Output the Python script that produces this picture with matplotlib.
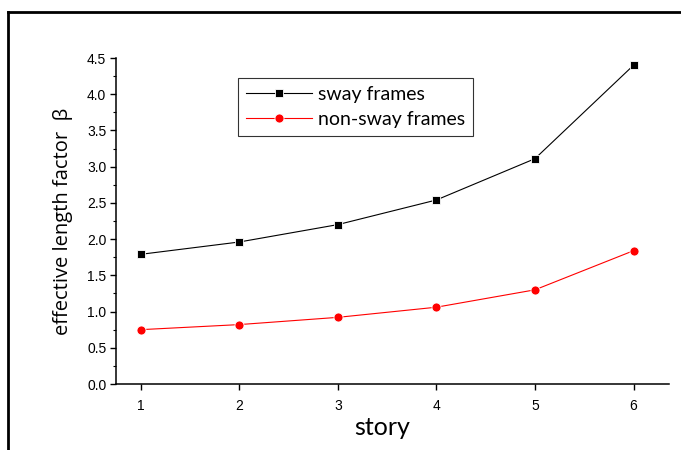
import matplotlib.pyplot as plt
from matplotlib.lines import Line2D
from matplotlib.ticker import MultipleLocator

# data
story = [1, 2, 3, 4, 5, 6]
sway = [1.79, 1.96, 2.20, 2.54, 3.11, 4.40]
non_sway = [0.75, 0.82, 0.92, 1.06, 1.30, 1.84]

plt.rcParams['font.family'] = ['Liberation Sans', 'DejaVu Sans']

fig = plt.figure(figsize=(6.81, 4.5), dpi=100)
ax = fig.add_axes([116 / 681, 66 / 450, 553 / 681, 326 / 450])

ax.plot(story, sway, '-', color='black', lw=0.8, marker='s', ms=6,
        mfc='black', mec='white', mew=0.6, label='sway frames')
ax.plot(story, non_sway, '-', color='red', lw=0.8, marker='o', ms=6.5,
        mfc='red', mec='white', mew=0.6, label='non-sway frames')

ax.set_xlim(0.75, 6.36)
ax.set_ylim(0, 4.5)
ax.xaxis.set_major_locator(MultipleLocator(1))
ax.yaxis.set_major_locator(MultipleLocator(0.5))
ax.yaxis.set_minor_locator(MultipleLocator(0.25))
ax.yaxis.set_major_formatter(plt.FormatStrFormatter('%.1f'))

for s in ['top', 'right']:
    ax.spines[s].set_visible(False)
for s in ['left', 'bottom']:
    ax.spines[s].set_linewidth(1.1)

ax.tick_params(which='major', direction='out', length=4, width=1, labelsize=10, pad=3)
ax.tick_params(which='minor', direction='out', length=2.5, width=0.8)
ax.tick_params(axis='x', pad=7)

ax.set_xlabel('story', fontsize=18, family=['Lato', 'DejaVu Sans'], labelpad=2)
ax.xaxis.label.set_x((382 - 116) / 553)
ax.set_ylabel('effective length factor  \u03b2', fontsize=14.5,
              family=['Open Sans', 'DejaVu Sans'], labelpad=10)

leg = ax.legend(loc='upper left', bbox_to_anchor=(122 / 553, 306 / 326), borderaxespad=0,
                frameon=True, fancybox=False, edgecolor='black',
                prop={'family': ['Lato', 'DejaVu Sans'], 'size': 14},
                handlelength=3.4, borderpad=0.4, labelspacing=0.42, handletextpad=0.3)
leg.get_frame().set_linewidth(0.8)

# outer frame (left and top edges of the original figure box)
fig.add_artist(Line2D([8 / 681, 8 / 681], [0, 1 - 12 / 450], color='black', lw=2,
                      transform=fig.transFigure))
fig.add_artist(Line2D([8 / 681, 1], [1 - 12 / 450, 1 - 12 / 450], color='black', lw=2,
                      transform=fig.transFigure))

fig.savefig('out.png', dpi=100)
